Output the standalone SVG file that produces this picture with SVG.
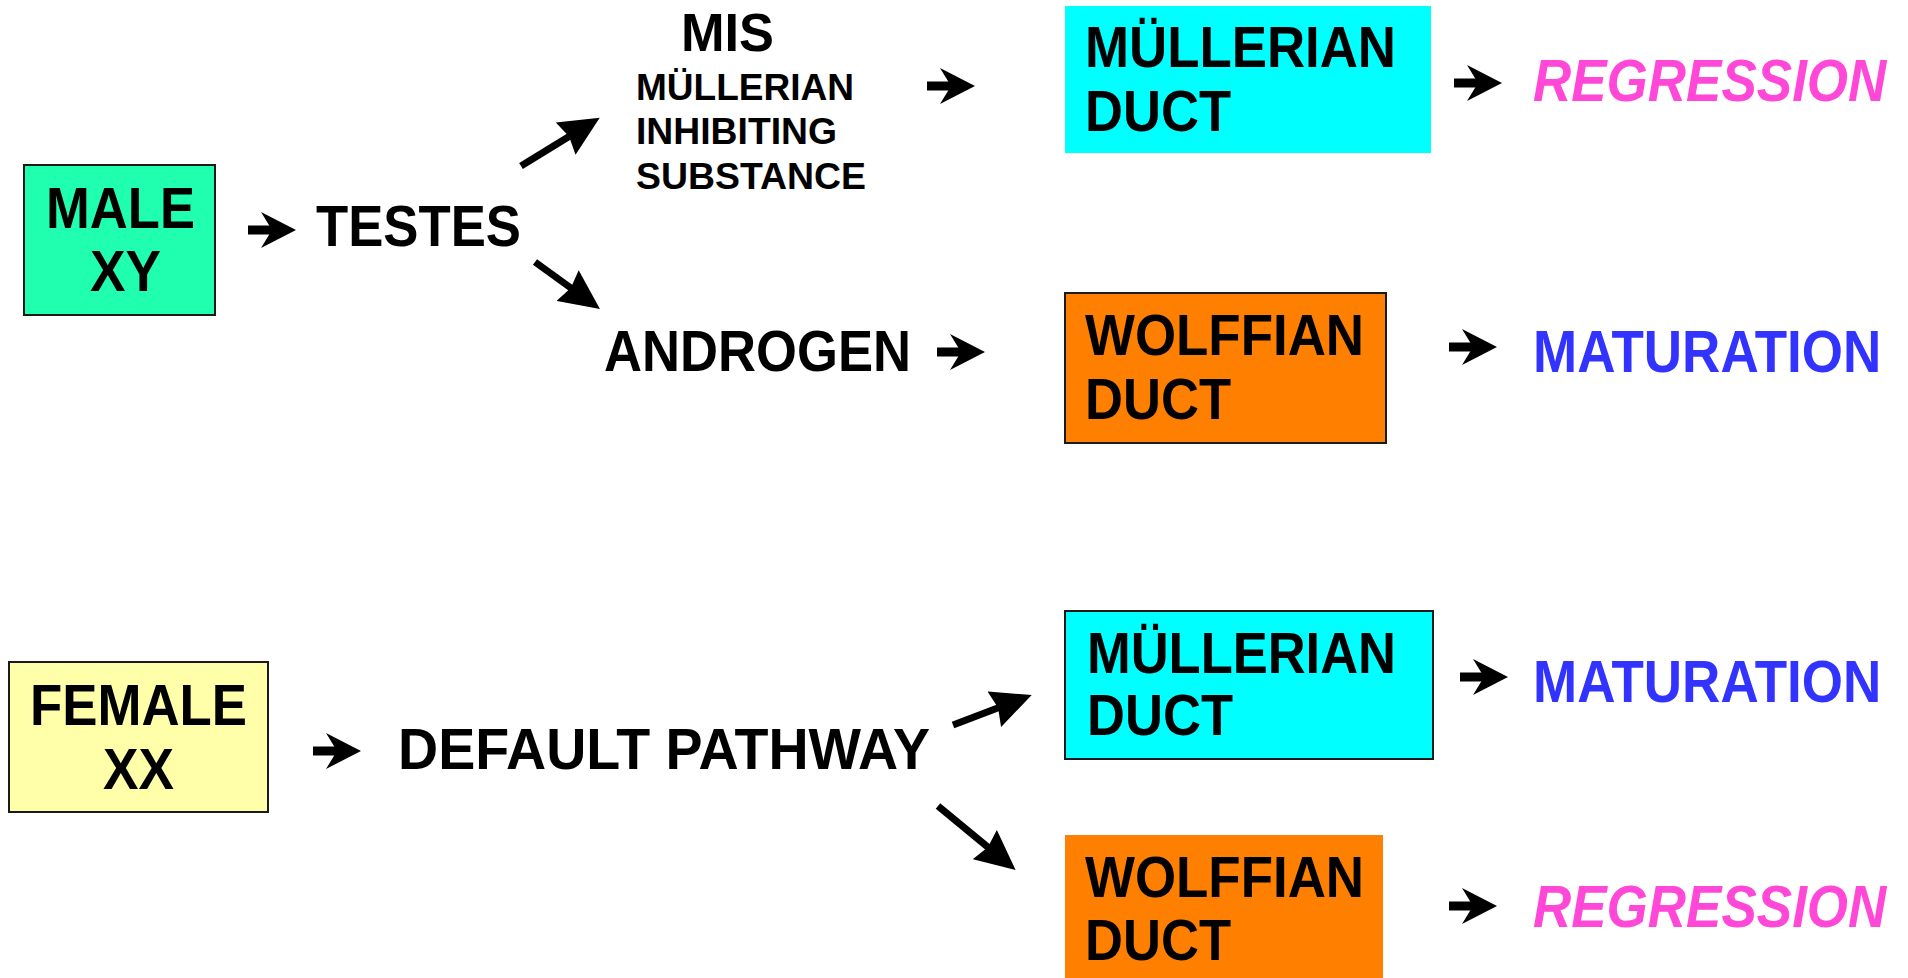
<svg xmlns="http://www.w3.org/2000/svg" width="1908" height="978" viewBox="0 0 1908 978">
<defs>
<style>
.t{font-family:"Liberation Sans",Arial,sans-serif;font-weight:bold;fill:#000}
.big{font-size:58px}
.edge{font-size:53px}
.sm{font-size:37px}
.mis{font-size:53px}
.reg{fill:#FF47D8;font-style:italic}
.mat{fill:#3333FF}
.box{stroke:#1a1a1a;stroke-width:2}
.diag{stroke:#000;stroke-width:7;fill:none}
</style>
<g id="harrow">
<rect x="0" y="-4.5" width="26" height="9" fill="#000"/>
<path d="M13,-18 L48,0 L13,18 L24,0 Z" fill="#000"/>
</g>
<marker id="head" markerUnits="userSpaceOnUse" markerWidth="40" markerHeight="38" refX="5" refY="0" orient="auto" viewBox="0 -19 40 38">
<path d="M0,-19 L40,0 L0,19 L4,0 Z" fill="#000"/>
</marker>
</defs>
<rect width="1908" height="978" fill="#fff"/>

<g id="connectors">
<use href="#harrow" x="248" y="230"/>
<line class="diag" x1="521" y1="166" x2="569.9" y2="136" marker-end="url(#head)"/>
<line class="diag" x1="535" y1="262" x2="571.6" y2="288.5" marker-end="url(#head)"/>
<use href="#harrow" x="927" y="86"/>
<use href="#harrow" x="937" y="352"/>
<use href="#harrow" x="1454" y="83"/>
<use href="#harrow" x="1449" y="347"/>
<use href="#harrow" x="313" y="751"/>
<line class="diag" x1="953" y1="725" x2="999" y2="707.5" marker-end="url(#head)"/>
<line class="diag" x1="938" y1="806" x2="988.6" y2="847.8" marker-end="url(#head)"/>
<use href="#harrow" x="1460" y="677"/>
<use href="#harrow" x="1449" y="906"/>
</g>

<g id="male">
<rect class="box" x="24" y="165" width="191" height="150" fill="#20FFB0"/>
<text class="t big" x="46" y="228" textLength="149" lengthAdjust="spacingAndGlyphs">MALE</text>
<text class="t big" x="90" y="291" textLength="71" lengthAdjust="spacingAndGlyphs">XY</text>
</g>
<g id="testes">
<text class="t big" x="316" y="246" textLength="205" lengthAdjust="spacingAndGlyphs">TESTES</text>
</g>
<g id="mis">
<text class="t mis" x="681" y="51" textLength="93" lengthAdjust="spacingAndGlyphs">MIS</text>
<text class="t sm" x="636" y="100" textLength="218" lengthAdjust="spacingAndGlyphs">MÜLLERIAN</text>
<text class="t sm" x="636" y="144" textLength="201" lengthAdjust="spacingAndGlyphs">INHIBITING</text>
<text class="t sm" x="636" y="189" textLength="230" lengthAdjust="spacingAndGlyphs">SUBSTANCE</text>
</g>
<g id="androgen">
<text class="t big" x="604" y="371" textLength="307" lengthAdjust="spacingAndGlyphs">ANDROGEN</text>
</g>
<g id="mullerian-male">
<rect x="1065" y="6" width="366" height="147" fill="#00FFFF"/>
<text class="t big" x="1085" y="67" textLength="311" lengthAdjust="spacingAndGlyphs">MÜLLERIAN</text>
<text class="t big" x="1085" y="131" textLength="146" lengthAdjust="spacingAndGlyphs">DUCT</text>
</g>
<g id="wolffian-male">
<rect class="box" x="1065" y="293" width="321" height="150" fill="#FF7F00"/>
<text class="t big" x="1085" y="355" textLength="279" lengthAdjust="spacingAndGlyphs">WOLFFIAN</text>
<text class="t big" x="1085" y="419" textLength="146" lengthAdjust="spacingAndGlyphs">DUCT</text>
</g>
<g id="regression-male">
<text class="t edge reg" transform="translate(1533,101) scale(1,1.1)" x="0" y="0">REGRESSION</text>
</g>
<g id="maturation-male">
<text class="t edge mat" transform="translate(1533,372) scale(1,1.1)" x="0" y="0">MATURATION</text>
</g>

<g id="female">
<rect class="box" x="9" y="662" width="259" height="150" fill="#FFFFAA"/>
<text class="t big" x="30" y="725" textLength="217" lengthAdjust="spacingAndGlyphs">FEMALE</text>
<text class="t big" x="103" y="789" textLength="71" lengthAdjust="spacingAndGlyphs">XX</text>
</g>
<g id="default">
<text class="t big" x="398" y="769" textLength="532" lengthAdjust="spacingAndGlyphs">DEFAULT PATHWAY</text>
</g>
<g id="mullerian-female">
<rect class="box" x="1065" y="611" width="368" height="148" fill="#00FFFF"/>
<text class="t big" x="1087" y="673" textLength="309" lengthAdjust="spacingAndGlyphs">MÜLLERIAN</text>
<text class="t big" x="1087" y="735" textLength="146" lengthAdjust="spacingAndGlyphs">DUCT</text>
</g>
<g id="wolffian-female">
<rect x="1065" y="835" width="318" height="150" fill="#FF7F00"/>
<text class="t big" x="1085" y="897" textLength="279" lengthAdjust="spacingAndGlyphs">WOLFFIAN</text>
<text class="t big" x="1085" y="960" textLength="146" lengthAdjust="spacingAndGlyphs">DUCT</text>
</g>
<g id="maturation-female">
<text class="t edge mat" transform="translate(1533,702) scale(1,1.1)" x="0" y="0">MATURATION</text>
</g>
<g id="regression-female">
<text class="t edge reg" transform="translate(1533,927) scale(1,1.1)" x="0" y="0">REGRESSION</text>
</g>
</svg>
